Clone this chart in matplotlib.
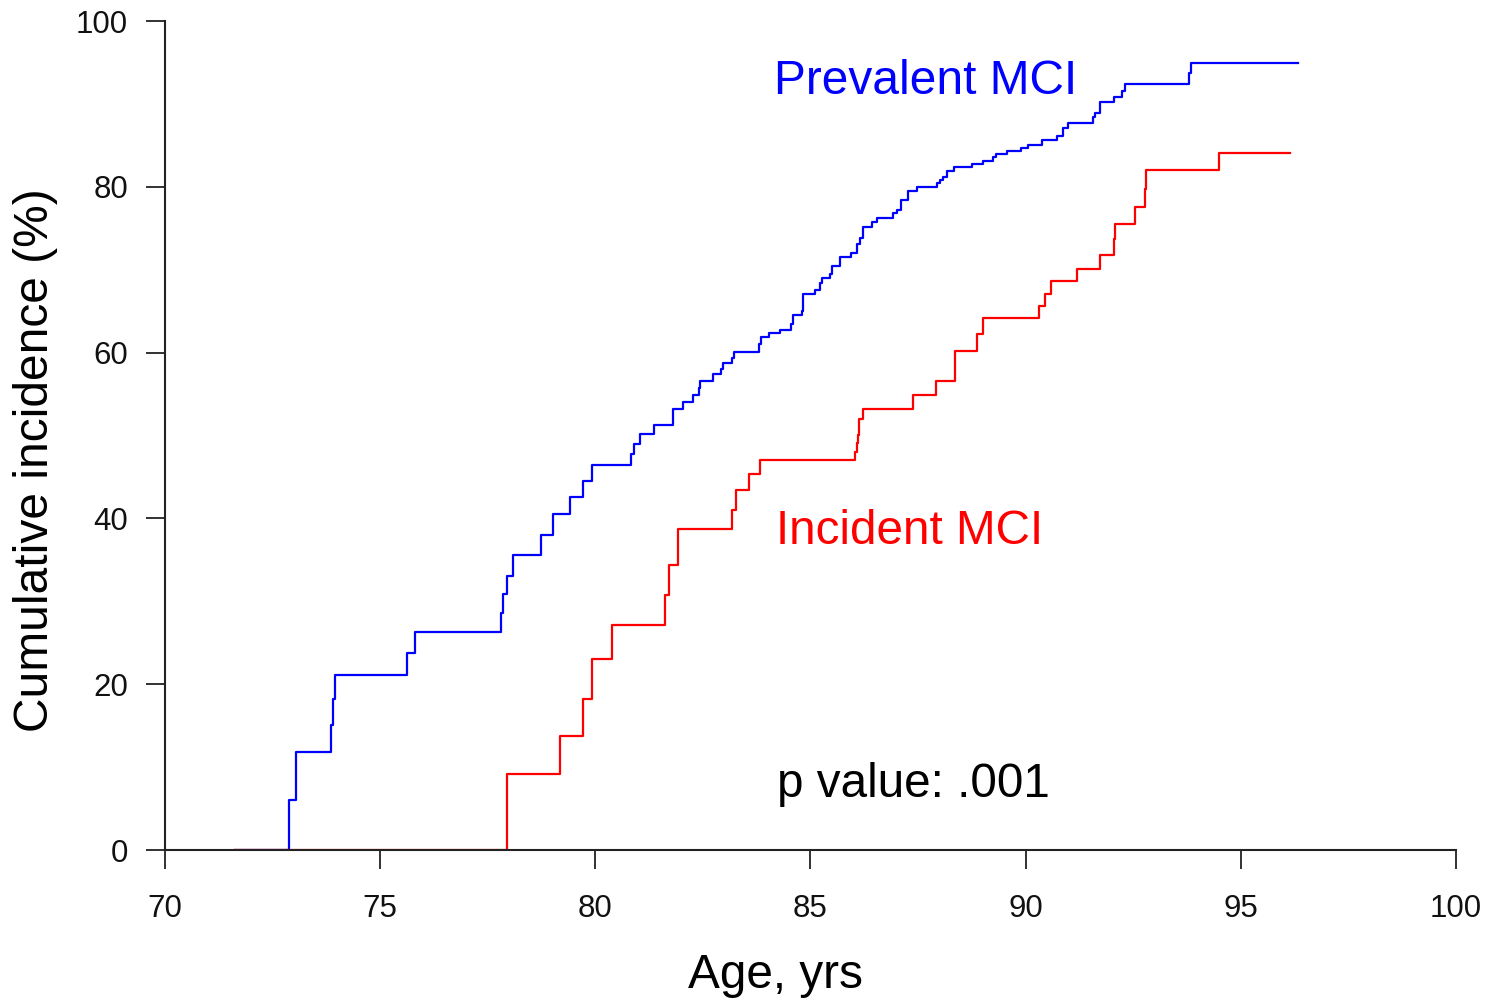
import matplotlib
matplotlib.use("Agg")
import matplotlib.pyplot as plt
from matplotlib import font_manager

# ---- data ----
prev_age = [71.63, 72.88, 73.04, 73.86, 73.90, 73.95, 75.62, 75.81, 77.81, 77.85,
            77.95, 78.09, 78.74, 79.02, 79.41, 79.71, 79.92, 80.83, 80.90, 81.04,
            81.36, 81.81, 82.04, 82.27, 82.41, 82.43, 82.74, 82.92, 82.97, 83.18,
            83.22, 83.80, 83.85, 84.04, 84.29, 84.55, 84.59, 84.80, 84.83, 85.11,
            85.22, 85.27, 85.45, 85.50, 85.69, 85.94, 86.08, 86.15, 86.22, 86.43,
            86.55, 86.92, 87.01, 87.10, 87.27, 87.48, 87.94, 88.01, 88.08, 88.17,
            88.34, 88.75, 89.01, 89.24, 89.31, 89.57, 89.89, 90.06, 90.38, 90.73,
            90.87, 90.99, 91.57, 91.61, 91.73, 92.05, 92.24, 92.31, 93.80, 93.84,
            96.33]
prev_pct = [0.0, 6.0, 11.8, 15.1, 18.2, 21.1, 23.8, 26.3, 28.6, 30.9,
            33.0, 35.6, 38.0, 40.5, 42.6, 44.5, 46.4, 47.8, 49.0, 50.2,
            51.3, 53.2, 54.0, 54.9, 55.7, 56.6, 57.4, 58.0, 58.7, 59.3,
            60.1, 61.0, 61.9, 62.4, 62.7, 63.4, 64.5, 65.0, 67.1, 67.6,
            68.4, 69.0, 69.5, 70.4, 71.5, 72.0, 73.1, 73.8, 75.2, 75.8,
            76.2, 76.8, 77.2, 78.4, 79.5, 80.0, 80.5, 80.8, 81.2, 81.9,
            82.4, 82.8, 83.1, 83.6, 84.0, 84.3, 84.7, 85.0, 85.6, 86.1,
            87.1, 87.7, 88.4, 88.9, 90.2, 90.8, 91.6, 92.4, 93.7, 94.9,
            94.9]

inc_age = [71.63, 77.95, 79.18, 79.71, 79.92, 80.39, 81.62, 81.71, 81.92, 83.18,
           83.27, 83.57, 83.83, 86.04, 86.08, 86.11, 86.13, 86.22, 87.38, 87.92,
           88.36, 88.87, 89.01, 90.31, 90.45, 90.59, 91.19, 91.73, 92.06, 92.08,
           92.54, 92.78, 92.80, 94.49, 96.14]
inc_pct = [0.0, 9.2, 13.7, 18.2, 23.0, 27.1, 30.8, 34.4, 38.7, 41.0,
           43.4, 45.4, 47.0, 48.0, 49.1, 50.1, 52.0, 53.2, 54.9, 56.6,
           60.2, 62.2, 64.2, 65.6, 67.1, 68.6, 70.1, 71.8, 73.7, 75.5,
           77.6, 79.7, 82.0, 84.1, 84.1]

x_ticks = [70, 75, 80, 85, 90, 95, 100]
y_ticks = [0, 20, 40, 60, 80, 100]

label_prev = "Prevalent MCI"
label_inc = "Incident MCI"
p_text = "p value: .001"
x_label = "Age, yrs"
y_label = "Cumulative incidence (%)"

# ---- styling ----
W, H = 1493, 999
names = {f.name for f in font_manager.fontManager.ttflist}
base_font = "Liberation Sans" if "Liberation Sans" in names else "DejaVu Sans"
plt.rcParams["font.family"] = [base_font, "DejaVu Sans"]

fig = plt.figure(figsize=(W / 100, H / 100), dpi=100)
ax = fig.add_axes([165 / W, 1 - 850 / H, (1456 - 165) / W, (850 - 21) / H])

ax.step(prev_age, prev_pct, where="post", color="#0000ff", lw=1.6)
ax.step(inc_age, inc_pct, where="post", color="#ff0000", lw=1.6)

ax.set_xlim(70, 100)
ax.set_ylim(0, 100)
ax.set_xticks(x_ticks)
ax.set_yticks(y_ticks)
ax.set_xticklabels([str(v) for v in x_ticks])
ax.set_yticklabels([str(v) for v in y_ticks])
for s in ("top", "right"):
    ax.spines[s].set_visible(False)
for s in ("left", "bottom"):
    ax.spines[s].set_linewidth(1.5)
    ax.spines[s].set_color("#222222")
ax.tick_params(axis="both", direction="out", length=13.5, width=1.3, color="#222222",
               labelsize=22.5, labelcolor="#111111")
ax.tick_params(axis="x", pad=18)
ax.tick_params(axis="y", pad=13)

ax.text(84.15, 91.2, label_prev, color="#0000ff", fontsize=34.5, ha="left", va="baseline")
ax.text(84.2, 36.9, label_inc, color="#ff0000", fontsize=34.3, ha="left", va="baseline")
ax.text(84.22, 6.4, p_text, color="#000000", fontsize=34.3, ha="left", va="baseline")

fig.text(775 / W, 1 - 988 / H, x_label, fontsize=34.4, ha="center", va="baseline", color="#000000")

if "Liberation Sans Narrow" in names:
    fig.text(36 / W, 1 - 460 / H, y_label, fontsize=40, rotation=90, ha="center", va="center",
             family=["Liberation Sans Narrow", "DejaVu Sans"], color="#000000")
else:
    fig.text(36 / W, 1 - 460 / H, y_label, fontsize=34.5, rotation=90, ha="center", va="center",
             color="#000000")

fig.savefig("out.png", dpi=100)
